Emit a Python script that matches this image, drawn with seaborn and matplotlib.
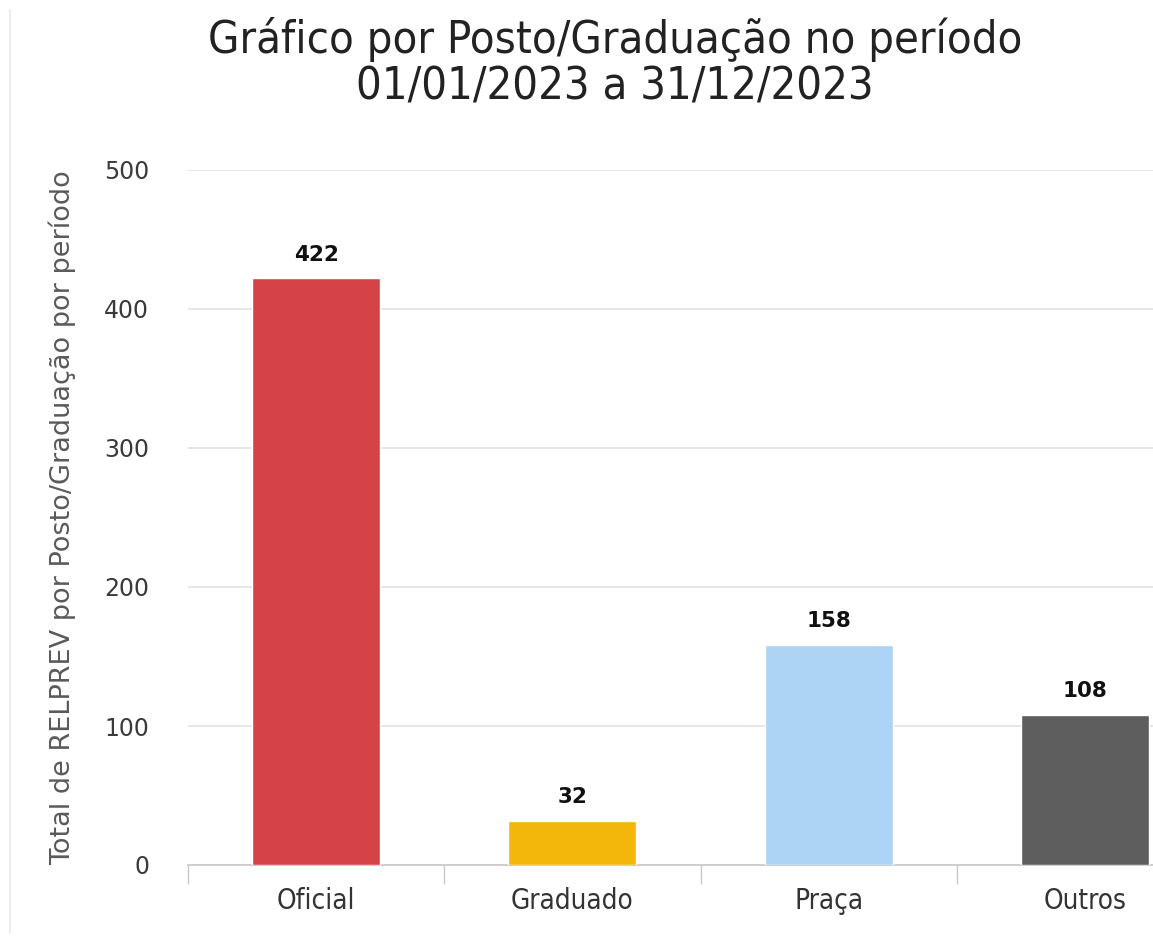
import matplotlib
matplotlib.use("Agg")
import matplotlib.pyplot as plt
import seaborn as sns
import pandas as pd
from matplotlib.lines import Line2D

categorias = ["Oficial", "Graduado", "Praça", "Outros"]
totais = [422, 32, 158, 108]
cores = ["#d64346", "#f2b70a", "#add3f5", "#5e5e5e"]
y_ticks = [0, 100, 200, 300, 400, 500]
titulo = "Gráfico por Posto/Graduação no período\n01/01/2023 a 31/12/2023"
rotulo_y = "Total de RELPREV por Posto/Graduação por período"

df = pd.DataFrame({"categoria": categorias, "total": totais})

sns.set_style("white")
plt.rcParams["font.family"] = ["DejaVu Sans"]

fig = plt.figure(figsize=(11.53, 9.52), dpi=100)
ax = fig.add_axes([188 / 1153, 87 / 952, 1025 / 1153, 695 / 952])

sns.barplot(data=df, x="categoria", y="total", hue="categoria",
            palette=dict(zip(categorias, cores)), legend=False,
            width=0.5, saturation=1, ax=ax, zorder=3)

ax.set_xlim(-0.5, 3.5)
ax.set_ylim(0, 500)
ax.set_yticks(y_ticks)
ax.set_yticklabels([str(v) for v in y_ticks], fontsize=17, color="#3a3a3a")
ax.yaxis.grid(True, color="#e3e3e3", lw=1.2, zorder=0)
ax.xaxis.grid(False)

for s in ["top", "right", "left"]:
    ax.spines[s].set_visible(False)
ax.spines["bottom"].set_color("#c8c8c8")
ax.spines["bottom"].set_linewidth(1.2)

# ticks on the category boundaries, labels centred under the bars
ax.set_xticks([i - 0.5 for i in range(len(categorias))], minor=True)
ax.tick_params(axis="x", which="minor", length=14, width=1, color="#c8c8c8", bottom=True)
ax.tick_params(axis="x", which="major", length=0, pad=16)
ax.tick_params(axis="y", length=0, pad=28)
ax.set_xticks(range(len(categorias)))
ax.set_xticklabels(categorias, fontsize=20, color="#333333", fontstretch="condensed")

ax.set_xlabel("")
ax.set_ylabel(rotulo_y, fontsize=19.5, color="#5a5a5a", labelpad=20)

for i, v in enumerate(totais):
    ax.annotate(str(v), (i, v), xytext=(0, 10), textcoords="offset points",
                ha="center", va="bottom", fontsize=15.5, fontweight="bold", color="#111111")

fig.text(615 / 1153, 1 - 63 / 952, titulo, ha="center", va="center",
         fontsize=32.5, color="#222222", linespacing=1.1, fontstretch="condensed")

fig.add_artist(Line2D([10 / 1153, 10 / 1153], [0.02, 0.99], color="#ececec", lw=1.5))

fig.savefig("out.png", dpi=100, facecolor="white")
